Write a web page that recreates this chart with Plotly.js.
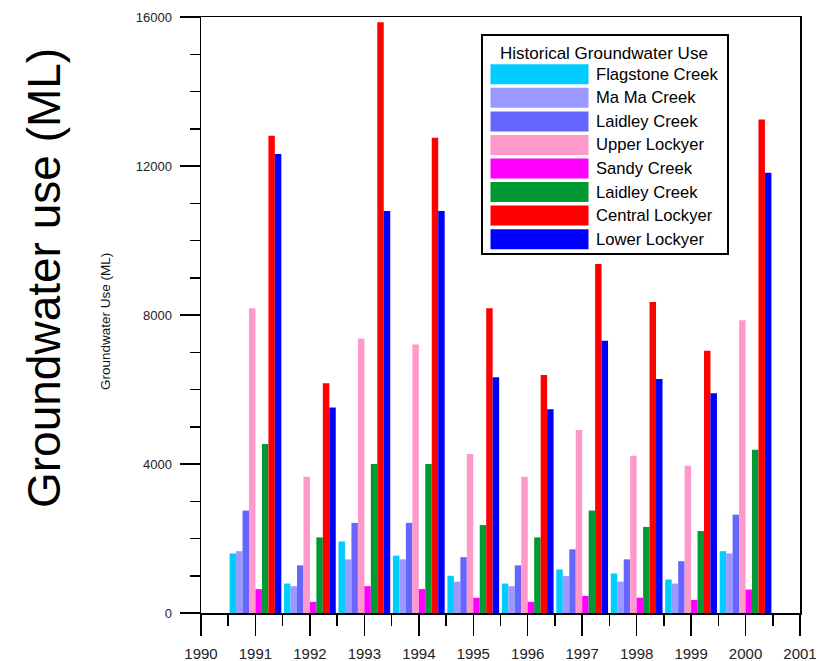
<!DOCTYPE html>
<html>
<head>
<meta charset="utf-8">
<script src="https://cdn.plot.ly/plotly-3.0.1.min.js"></script>
<style>
html,body{margin:0;padding:0;background:#fff;}
#chart{width:819px;height:661px;}
</style>
</head>
<body>
<div id="chart"></div>
<script>
// ---- data ----
const years = [1991, 1992, 1993, 1994, 1995, 1996, 1997, 1998, 1999, 2000];
const xTickVals = [1990, 1991, 1992, 1993, 1994, 1995, 1996, 1997, 1998, 1999, 2000, 2001];
const xTickText = ['1990', '1991', '1992', '1993', '1994', '1995', '1996', '1997', '1998', '1999', '2000', '2001'];
const yTickVals = [0, 4000, 8000, 12000, 16000];
const yTickText = ['0', '4000', '8000', '12000', '16000'];

const seriesNames = ['Flagstone Creek', 'Ma Ma Creek', 'Laidley Creek', 'Upper Lockyer',
                     'Sandy Creek', 'Laidley Creek', 'Central Lockyer', 'Lower Lockyer'];

const flagstoneCreek = [1600, 790, 1920, 1540, 1000, 790, 1170, 1060, 900, 1660];
const maMaCreek      = [1660, 720, 1440, 1440, 840, 720, 990, 840, 790, 1600];
const laidleyCreekA  = [2750, 1280, 2420, 2420, 1500, 1280, 1710, 1440, 1390, 2640];
const upperLockyer   = [8180, 3660, 7370, 7210, 4270, 3660, 4910, 4220, 3950, 7860];
const sandyCreek     = [640, 300, 720, 640, 410, 300, 460, 410, 350, 630];
const laidleyCreekB  = [4540, 2030, 4000, 4000, 2360, 2030, 2750, 2310, 2200, 4380];
const centralLockyer = [12810, 6170, 15860, 12760, 8180, 6390, 9370, 8350, 7040, 13250];
const lowerLockyer   = [12320, 5520, 10790, 10790, 6330, 5470, 7310, 6280, 5900, 11820];

const seriesValues = [flagstoneCreek, maMaCreek, laidleyCreekA, upperLockyer,
                      sandyCreek, laidleyCreekB, centralLockyer, lowerLockyer];

const yTitle = 'Groundwater Use (ML)';
const outerLabel = 'Groundwater use (ML)';
const legendTitle = 'Historical Groundwater Use';

// ---- styles ----
const colors = ['#00CCFF', '#9999FF', '#6666FF', '#FF99CC', '#FF00FF', '#009933', '#FF0000', '#0000FF'];

const traces = seriesNames.map((name, i) => ({
  type: 'bar',
  name: name,
  x: years,
  y: seriesValues[i],
  marker: {color: colors[i], line: {width: 0}},
  showlegend: false
}));

// plot area in pixels
const L = 201, R = 800, T = 17, B = 613;
const W = 819, H = 661;
const px = X => (X - L) / (R - L);
const py = Y => (B - Y) / (B - T);

const FONT = 'Liberation Sans, Arial, sans-serif';

// custom legend (box, swatches, labels) built from names/colors
const shapes = [];
const annotations = [];
shapes.push({type: 'rect', xref: 'paper', yref: 'paper',
  x0: px(482), x1: px(728), y0: py(254), y1: py(35),
  line: {color: '#000', width: 2}, fillcolor: '#fff', layer: 'above'});
annotations.push({xref: 'paper', yref: 'paper', x: px(604), y: py(53),
  text: legendTitle, showarrow: false, xanchor: 'center', yanchor: 'middle',
  font: {family: FONT, size: 17, color: '#000'}});
seriesNames.forEach((name, i) => {
  const cy = 74.3 + i * 23.55;
  shapes.push({type: 'rect', xref: 'paper', yref: 'paper',
    x0: px(490.5), x1: px(588.5), y0: py(cy + 10), y1: py(cy - 10),
    line: {width: 0}, fillcolor: colors[i], layer: 'above'});
  annotations.push({xref: 'paper', yref: 'paper', x: px(594), y: py(cy),
    text: name, showarrow: false, xanchor: 'left', yanchor: 'middle',
    font: {family: FONT, size: 16.6, color: '#000'}});
});

// small axis title next to the y axis
annotations.push({xref: 'paper', yref: 'paper', x: px(105), y: py(322),
  text: yTitle, showarrow: false, textangle: -90,
  xanchor: 'center', yanchor: 'middle',
  font: {family: FONT, size: 13.5, color: '#111'}});

// large outer label
annotations.push({xref: 'paper', yref: 'paper', x: px(44), y: py(278),
  text: outerLabel, showarrow: false, textangle: -90,
  xanchor: 'center', yanchor: 'middle',
  font: {family: FONT, size: 46, color: '#000'}});

const layout = {
  width: W, height: H,
  margin: {l: L, r: W - R, t: T, b: H - B, pad: 0},
  paper_bgcolor: '#fff', plot_bgcolor: '#fff',
  barmode: 'group', bargap: 0.05, bargroupgap: 0,
  font: {family: FONT, color: '#111'},
  xaxis: {
    range: [1990, 2001], tickmode: 'array', tickvals: xTickVals, ticktext: xTickText,
    ticks: 'outside', ticklen: 21, tickwidth: 1.5, tickcolor: '#000',
    minor: {tickmode: 'array', tickvals: [1990.5, 1991.5, 1992.5, 1993.5, 1994.5, 1995.5, 1996.5, 1997.5, 1998.5, 1999.5, 2000.5],
            ticks: 'outside', ticklen: 11, tickwidth: 1.5, tickcolor: '#000', showgrid: false},
    showline: true, linecolor: '#000', linewidth: 1.5, mirror: true,
    showgrid: false, zeroline: false, layer: 'below traces',
    tickfont: {family: FONT, size: 15, color: '#222'},
    ticklabelstandoff: 5, fixedrange: true, automargin: false
  },
  yaxis: {
    range: [0, 16000], tickmode: 'array', tickvals: yTickVals, ticktext: yTickText,
    ticks: 'outside', ticklen: 20, tickwidth: 1.5, tickcolor: '#000',
    minor: {dtick: 1000, ticks: 'outside', ticklen: 10, tickwidth: 1.5, tickcolor: '#000', showgrid: false},
    showline: true, linecolor: '#000', linewidth: 1.5, mirror: true,
    showgrid: false, zeroline: false,
    tickfont: {family: FONT, size: 13, color: '#222'},
    ticklabelstandoff: 5, automargin: false,
    fixedrange: true
  },
  shapes: shapes,
  annotations: annotations,
  showlegend: false
};

Plotly.newPlot('chart', traces, layout, {displayModeBar: false, staticPlot: true});
</script>
</body>
</html>
